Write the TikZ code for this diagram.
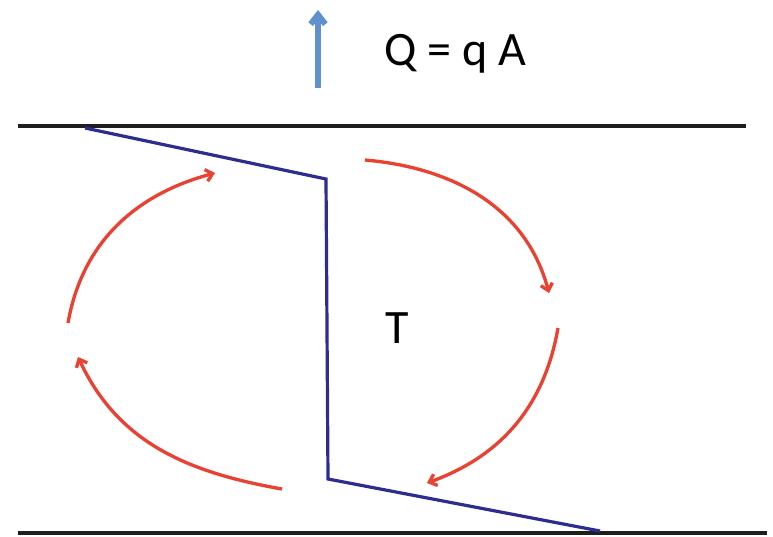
\documentclass[tikz,border=0pt]{standalone}
\usepackage{fontspec}
\setmainfont{Carlito}
\usepackage{xcolor}
\usepackage{tikz}
\usetikzlibrary{arrows.meta}

\definecolor{wallblack}{RGB}{30,30,30}
\definecolor{profblue}{RGB}{45,45,145}
\definecolor{flowred}{RGB}{234,66,50}
\definecolor{heatblue}{RGB}{95,145,205}

\begin{document}
\begin{tikzpicture}[
  x=0.75pt, y=-0.75pt,
  wall/.style={draw=wallblack, line width=2.4pt},
  profile/.style={draw=profblue, line width=2.4pt, line join=miter},
  flow/.style={draw=flowred, line width=2.5pt, -{Straight Barb[length=5pt,width=9pt]}},
  heat/.style={draw=heatblue, line width=4.5pt, -{Straight Barb[length=7pt,width=11pt]}},
  label/.style={font=\fontsize{36}{40}\selectfont, inner sep=0pt}
  ]
  \useasboundingbox (0,0) rectangle (773,536);
  % walls
  \coordinate (wtl) at (18,126);
  \coordinate (wtr) at (746,126);
  \coordinate (wbl) at (18,533);
  \coordinate (wbr) at (767,533);
  \draw[wall] (wtl) -- (wtr);
  \draw[wall] (wbl) -- (wbr);
  % temperature profile
  \coordinate (p1) at (85,128);
  \coordinate (p2) at (326,179);
  \coordinate (p3) at (328,479);
  \coordinate (p4) at (600,531);
  \draw[profile] (p1) -- (p2) -- (p3) -- (p4);
  % heat flux
  \coordinate (hb) at (318,88);
  \coordinate (ht) at (318,10);
  \draw[heat] (hb) -- (ht);
  \node[label, anchor=base west] (flux) at (384,65) {Q = q A};
  \node[label, anchor=base] (temp) at (397,343) {T};
  % circulation
  \coordinate (a1) at (68,323);
  \coordinate (a2) at (215,173);
  \coordinate (b1) at (365,160);
  \coordinate (b2) at (549,293);
  \coordinate (c1) at (558,328);
  \coordinate (c2) at (427,483);
  \coordinate (d1) at (282,489);
  \coordinate (d2) at (78,357);
  \draw[flow] (a1) to[out=80, in=195] (a2);
  \draw[flow] (b1) to[out=-5, in=105] (b2);
  \draw[flow] (c1) to[out=-100, in=20] (c2);
  \draw[flow] (d1) to[out=170, in=-65] (d2);
\end{tikzpicture}
\end{document}
